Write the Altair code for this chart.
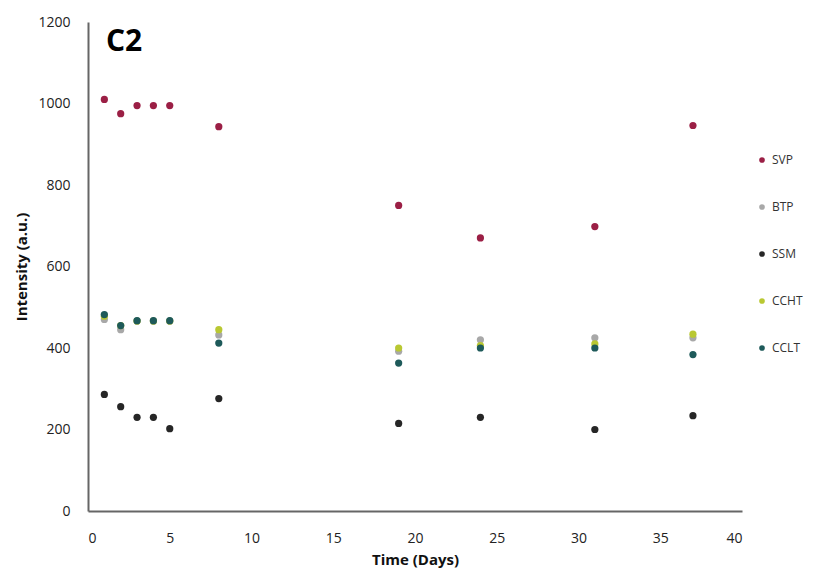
import altair as alt
import pandas as pd

days = [1, 2, 3, 4, 5, 8, 19, 24, 31, 37]
series_names = ["SVP", "BTP", "SSM", "CCHT", "CCLT"]
svp = [1010, 975, 995, 995, 995, 943, 750, 670, 698, 946]
btp = [470, 445, 466, 466, 466, 432, 392, 420, 425, 425]
ssm = [286, 256, 230, 230, 202, 276, 215, 230, 200, 234]
ccht = [478, 455, 466, 466, 466, 445, 400, 406, 410, 434]
cclt = [482, 455, 467, 467, 467, 412, 363, 400, 400, 384]
colors = ["#9b1f45", "#a8a8a8", "#262626", "#b9c832", "#1e5a5a"]

values = [svp, btp, ssm, ccht, cclt]
rows = []
for name, vals in zip(series_names, values):
    for d, v in zip(days, vals):
        rows.append({"Day": d, "Intensity": v, "Series": name})
df = pd.DataFrame(rows)
df["order"] = df["Series"].map({n: i for i, n in enumerate(series_names)})

font = "Open Sans"

points = alt.Chart(df).mark_circle(size=52, opacity=1).encode(
    x=alt.X("Day:Q", scale=alt.Scale(domain=[0, 40], nice=False),
            axis=alt.Axis(title="Time (Days)", values=list(range(0, 45, 5)), format="d",
                          grid=False, ticks=False, labelPadding=20,
                          titleFontWeight="bold", titleFontSize=15, titlePadding=7,
                          labelFontSize=14, labelColor="#222", titleColor="#111",
                          domainColor="#666", domainWidth=2, labelFont=font, titleFont=font)),
    y=alt.Y("Intensity:Q", scale=alt.Scale(domain=[0, 1200], nice=False),
            axis=alt.Axis(title="Intensity (a.u.)", values=list(range(0, 1400, 200)), format="d",
                          grid=False, ticks=False, labelPadding=18,
                          titleFontWeight="bold", titleFontSize=15, titlePadding=8,
                          labelFontSize=14, labelColor="#222", titleColor="#111",
                          domainColor="#666", domainWidth=2, labelFont=font, titleFont=font)),
    color=alt.Color("Series:N", scale=alt.Scale(domain=series_names, range=colors),
                    legend=alt.Legend(title=None, orient="none", legendX=668, legendY=132,
                                      symbolSize=32, symbolType="circle", labelFontSize=12,
                                      labelColor="#333", rowPadding=35, labelFont=font)),
    order=alt.Order("order:Q"),
)

label = alt.Chart(pd.DataFrame({"t": ["C2"]})).mark_text(
    fontSize=30, fontWeight="bold", font=font, align="left", baseline="middle", color="#000"
).encode(x=alt.value(18), y=alt.value(20), text="t:N")

chart = (points + label).properties(
    width=654, height=489,
    autosize=alt.AutoSizeParams(type="none"),
    padding={"left": 80, "top": 14, "right": 65, "bottom": 60},
).configure_view(stroke=None)

chart.save("out.html", embed_options={"renderer": "svg", "actions": False})
